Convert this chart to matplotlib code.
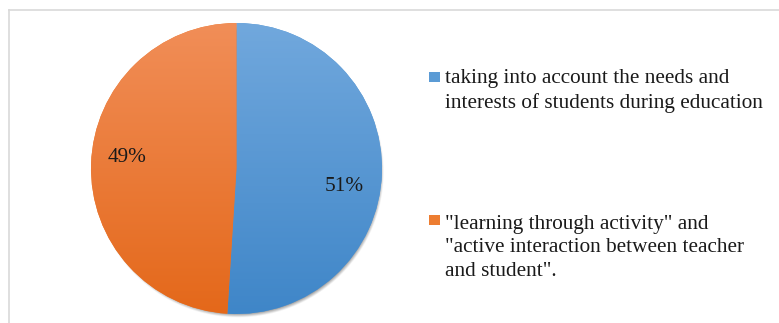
import numpy as np
import matplotlib.pyplot as plt
from matplotlib.colors import to_rgb
from matplotlib.patches import Rectangle
from matplotlib.lines import Line2D

plt.rcParams['font.family'] = ['Liberation Serif', 'DejaVu Serif']

labels = ['taking into account the needs and\ninterests of students during education',
          '"learning through activity" and\n"active interaction between teacher\nand student".']
shares = [51, 49]
top_colors = ['#71a8dd', '#f18e58']
bottom_colors = ['#3f86c8', '#e4681a']
legend_colors = ['#5b9bd5', '#ed7d31']

fig = plt.figure(figsize=(7.79, 3.23), dpi=100)

# light frame: only top and left edges show
fig.add_artist(Line2D([9 / 779, 1], [1 - 10 / 323, 1 - 10 / 323], color='#d9d9d9', lw=1.2))
fig.add_artist(Line2D([9 / 779, 9 / 779], [0, 1 - 10 / 323], color='#d9d9d9', lw=1.2))

ax = fig.add_axes([(236.5 - 150) / 779, (154.5 - 150) / 323, 300 / 779, 300 / 323])
R = 150 / 145.5
ax.set_xlim(-R, R)
ax.set_ylim(-R, R)
ax.set_aspect('equal')
ax.axis('off')

# soft drop shadow under the pie
gx, gy = np.meshgrid(np.linspace(-R, R, 400), np.linspace(R, -R, 400))
d = np.hypot(gx - 0.008, gy + 0.026)
shadow = np.clip((1.004 - d) / 0.035, 0, 1) * 0.5
rgba = np.zeros((400, 400, 4))
rgba[..., 3] = shadow
ax.imshow(rgba, extent=(-R, R, -R, R), zorder=0, interpolation='bilinear')

wedges, _ = ax.pie(shares, startangle=90, counterclock=False,
                   colors=legend_colors, radius=1,
                   wedgeprops=dict(linewidth=0))

# vertical gradient fill clipped to each wedge
for w, c0, c1 in zip(wedges, top_colors, bottom_colors):
    t = np.linspace(0, 1, 256)[:, None, None]
    grad = (1 - t) * np.array(to_rgb(c0)) + t * np.array(to_rgb(c1))
    im = ax.imshow(grad, extent=(-1, 1, -1, 1), origin='upper', aspect='auto',
                   zorder=2, interpolation='bilinear')
    im.set_clip_path(w)
    w.set_zorder(1)
ax.set_xlim(-R, R)
ax.set_ylim(-R, R)

# percentage labels
label_pos = [(0.74, -0.127), (-0.753, 0.079)]
for (x, y), s in zip(label_pos, shares):
    ax.text(x, y, f'{s}%', ha='center', va='center', fontsize=15.3, color='#1a1a1a', zorder=5)

# legend entries (first-line baselines in px from top)
legend_base = [83, 226]
line_px = 25
for y, lab, c in zip(legend_base, labels, legend_colors):
    fig.add_artist(Rectangle((429 / 779, 1 - (y - 1) / 323), 11 / 779, 10 / 323,
                             transform=fig.transFigure, facecolor=c, edgecolor='none'))
    last = y + line_px * lab.count('\n')
    fig.text(445 / 779, 1 - last / 323, lab, ha='left', va='baseline', fontsize=15.3,
             color='#1a1a1a', linespacing=1.33)

fig.savefig('out.png', dpi=100)
